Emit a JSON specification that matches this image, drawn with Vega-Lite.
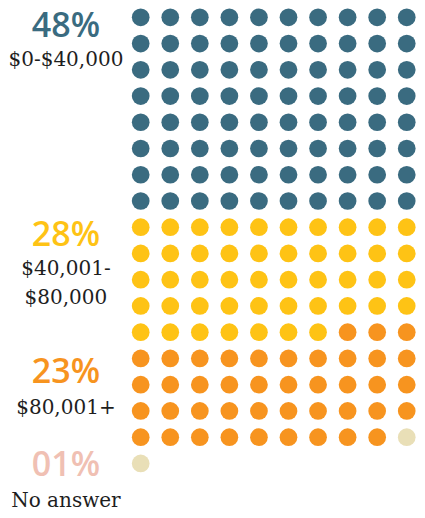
{
  "$schema": "https://vega.github.io/schema/vega-lite/v6.json",
  "width": 425,
  "height": 518,
  "autosize": {"type": "none"},
  "padding": 0,
  "background": "white",
  "config": {"view": {"stroke": null}},
  "datasets": {
    "dots": [
      {"c":0,"r":0,"g":"low"},{"c":1,"r":0,"g":"low"},{"c":2,"r":0,"g":"low"},{"c":3,"r":0,"g":"low"},{"c":4,"r":0,"g":"low"},{"c":5,"r":0,"g":"low"},{"c":6,"r":0,"g":"low"},{"c":7,"r":0,"g":"low"},{"c":8,"r":0,"g":"low"},{"c":9,"r":0,"g":"low"},
      {"c":0,"r":1,"g":"low"},{"c":1,"r":1,"g":"low"},{"c":2,"r":1,"g":"low"},{"c":3,"r":1,"g":"low"},{"c":4,"r":1,"g":"low"},{"c":5,"r":1,"g":"low"},{"c":6,"r":1,"g":"low"},{"c":7,"r":1,"g":"low"},{"c":8,"r":1,"g":"low"},{"c":9,"r":1,"g":"low"},
      {"c":0,"r":2,"g":"low"},{"c":1,"r":2,"g":"low"},{"c":2,"r":2,"g":"low"},{"c":3,"r":2,"g":"low"},{"c":4,"r":2,"g":"low"},{"c":5,"r":2,"g":"low"},{"c":6,"r":2,"g":"low"},{"c":7,"r":2,"g":"low"},{"c":8,"r":2,"g":"low"},{"c":9,"r":2,"g":"low"},
      {"c":0,"r":3,"g":"low"},{"c":1,"r":3,"g":"low"},{"c":2,"r":3,"g":"low"},{"c":3,"r":3,"g":"low"},{"c":4,"r":3,"g":"low"},{"c":5,"r":3,"g":"low"},{"c":6,"r":3,"g":"low"},{"c":7,"r":3,"g":"low"},{"c":8,"r":3,"g":"low"},{"c":9,"r":3,"g":"low"},
      {"c":0,"r":4,"g":"low"},{"c":1,"r":4,"g":"low"},{"c":2,"r":4,"g":"low"},{"c":3,"r":4,"g":"low"},{"c":4,"r":4,"g":"low"},{"c":5,"r":4,"g":"low"},{"c":6,"r":4,"g":"low"},{"c":7,"r":4,"g":"low"},{"c":8,"r":4,"g":"low"},{"c":9,"r":4,"g":"low"},
      {"c":0,"r":5,"g":"low"},{"c":1,"r":5,"g":"low"},{"c":2,"r":5,"g":"low"},{"c":3,"r":5,"g":"low"},{"c":4,"r":5,"g":"low"},{"c":5,"r":5,"g":"low"},{"c":6,"r":5,"g":"low"},{"c":7,"r":5,"g":"low"},{"c":8,"r":5,"g":"low"},{"c":9,"r":5,"g":"low"},
      {"c":0,"r":6,"g":"low"},{"c":1,"r":6,"g":"low"},{"c":2,"r":6,"g":"low"},{"c":3,"r":6,"g":"low"},{"c":4,"r":6,"g":"low"},{"c":5,"r":6,"g":"low"},{"c":6,"r":6,"g":"low"},{"c":7,"r":6,"g":"low"},{"c":8,"r":6,"g":"low"},{"c":9,"r":6,"g":"low"},
      {"c":0,"r":7,"g":"low"},{"c":1,"r":7,"g":"low"},{"c":2,"r":7,"g":"low"},{"c":3,"r":7,"g":"low"},{"c":4,"r":7,"g":"low"},{"c":5,"r":7,"g":"low"},{"c":6,"r":7,"g":"low"},{"c":7,"r":7,"g":"low"},{"c":8,"r":7,"g":"low"},{"c":9,"r":7,"g":"low"},
      {"c":0,"r":8,"g":"mid"},{"c":1,"r":8,"g":"mid"},{"c":2,"r":8,"g":"mid"},{"c":3,"r":8,"g":"mid"},{"c":4,"r":8,"g":"mid"},{"c":5,"r":8,"g":"mid"},{"c":6,"r":8,"g":"mid"},{"c":7,"r":8,"g":"mid"},{"c":8,"r":8,"g":"mid"},{"c":9,"r":8,"g":"mid"},
      {"c":0,"r":9,"g":"mid"},{"c":1,"r":9,"g":"mid"},{"c":2,"r":9,"g":"mid"},{"c":3,"r":9,"g":"mid"},{"c":4,"r":9,"g":"mid"},{"c":5,"r":9,"g":"mid"},{"c":6,"r":9,"g":"mid"},{"c":7,"r":9,"g":"mid"},{"c":8,"r":9,"g":"mid"},{"c":9,"r":9,"g":"mid"},
      {"c":0,"r":10,"g":"mid"},{"c":1,"r":10,"g":"mid"},{"c":2,"r":10,"g":"mid"},{"c":3,"r":10,"g":"mid"},{"c":4,"r":10,"g":"mid"},{"c":5,"r":10,"g":"mid"},{"c":6,"r":10,"g":"mid"},{"c":7,"r":10,"g":"mid"},{"c":8,"r":10,"g":"mid"},{"c":9,"r":10,"g":"mid"},
      {"c":0,"r":11,"g":"mid"},{"c":1,"r":11,"g":"mid"},{"c":2,"r":11,"g":"mid"},{"c":3,"r":11,"g":"mid"},{"c":4,"r":11,"g":"mid"},{"c":5,"r":11,"g":"mid"},{"c":6,"r":11,"g":"mid"},{"c":7,"r":11,"g":"mid"},{"c":8,"r":11,"g":"mid"},{"c":9,"r":11,"g":"mid"},
      {"c":0,"r":12,"g":"mid"},{"c":1,"r":12,"g":"mid"},{"c":2,"r":12,"g":"mid"},{"c":3,"r":12,"g":"mid"},{"c":4,"r":12,"g":"mid"},{"c":5,"r":12,"g":"mid"},{"c":6,"r":12,"g":"mid"},{"c":7,"r":12,"g":"high"},{"c":8,"r":12,"g":"high"},{"c":9,"r":12,"g":"high"},
      {"c":0,"r":13,"g":"high"},{"c":1,"r":13,"g":"high"},{"c":2,"r":13,"g":"high"},{"c":3,"r":13,"g":"high"},{"c":4,"r":13,"g":"high"},{"c":5,"r":13,"g":"high"},{"c":6,"r":13,"g":"high"},{"c":7,"r":13,"g":"high"},{"c":8,"r":13,"g":"high"},{"c":9,"r":13,"g":"high"},
      {"c":0,"r":14,"g":"high"},{"c":1,"r":14,"g":"high"},{"c":2,"r":14,"g":"high"},{"c":3,"r":14,"g":"high"},{"c":4,"r":14,"g":"high"},{"c":5,"r":14,"g":"high"},{"c":6,"r":14,"g":"high"},{"c":7,"r":14,"g":"high"},{"c":8,"r":14,"g":"high"},{"c":9,"r":14,"g":"high"},
      {"c":0,"r":15,"g":"high"},{"c":1,"r":15,"g":"high"},{"c":2,"r":15,"g":"high"},{"c":3,"r":15,"g":"high"},{"c":4,"r":15,"g":"high"},{"c":5,"r":15,"g":"high"},{"c":6,"r":15,"g":"high"},{"c":7,"r":15,"g":"high"},{"c":8,"r":15,"g":"high"},{"c":9,"r":15,"g":"high"},
      {"c":0,"r":16,"g":"high"},{"c":1,"r":16,"g":"high"},{"c":2,"r":16,"g":"high"},{"c":3,"r":16,"g":"high"},{"c":4,"r":16,"g":"high"},{"c":5,"r":16,"g":"high"},{"c":6,"r":16,"g":"high"},{"c":7,"r":16,"g":"high"},{"c":8,"r":16,"g":"high"},{"c":9,"r":16,"g":"na"},
      {"c":0,"r":17,"g":"na"}
    ],
    "pcts": [
      {"text":"48%","g":"low","c":-2.53,"r":0.745},
      {"text":"28%","g":"mid","c":-2.53,"r":8.7},
      {"text":"23%","g":"high","c":-2.53,"r":13.93},
      {"text":"01%","g":"na","c":-2.53,"r":17.47}
    ],
    "names": [
      {"text":["$0-$40,000"],"c":-2.53,"r":1.845},
      {"text":["$40,001-","$80,000"],"c":-2.53,"r":9.82},
      {"text":["$80,001+"],"c":-2.53,"r":15.1},
      {"text":["No answer"],"c":-2.53,"r":18.66}
    ]
  },
  "layer": [
    {
      "data": {"name": "dots"},
      "mark": {"type": "circle", "size": 314, "opacity": 1},
      "encoding": {
        "x": {"field": "c", "type": "quantitative", "scale": {"domain": [-4.76, 9.618], "nice": false, "zero": false}, "axis": null},
        "y": {"field": "r", "type": "quantitative", "scale": {"domain": [-0.659, 19.08], "nice": false, "zero": false, "reverse": true}, "axis": null},
        "color": {"field": "g", "type": "nominal", "legend": null,
          "scale": {"domain": ["low","mid","high","na"], "range": ["#3a6b80","#fec315","#f7941f","#e9dfb7"]}}
      }
    },
    {
      "data": {"name": "pcts"},
      "mark": {"type": "text", "font": "Open Sans", "fontWeight": 600, "fontSize": 34, "align": "center", "baseline": "alphabetic"},
      "encoding": {
        "x": {"field": "c", "type": "quantitative"},
        "y": {"field": "r", "type": "quantitative"},
        "text": {"field": "text"},
        "color": {"field": "g", "type": "nominal", "legend": null,
          "scale": {"domain": ["low","mid","high","na"], "range": ["#3a6b80","#fec315","#f7941f","#f0c0b3"]}}
      }
    },
    {
      "data": {"name": "names"},
      "mark": {"type": "text", "font": "DejaVu Serif", "fontSize": 20, "align": "center", "baseline": "alphabetic", "lineHeight": 29, "color": "#1e1e1e"},
      "encoding": {
        "x": {"field": "c", "type": "quantitative"},
        "y": {"field": "r", "type": "quantitative"},
        "text": {"field": "text"}
      }
    }
  ],
  "resolve": {"scale": {"color": "independent"}}
}
